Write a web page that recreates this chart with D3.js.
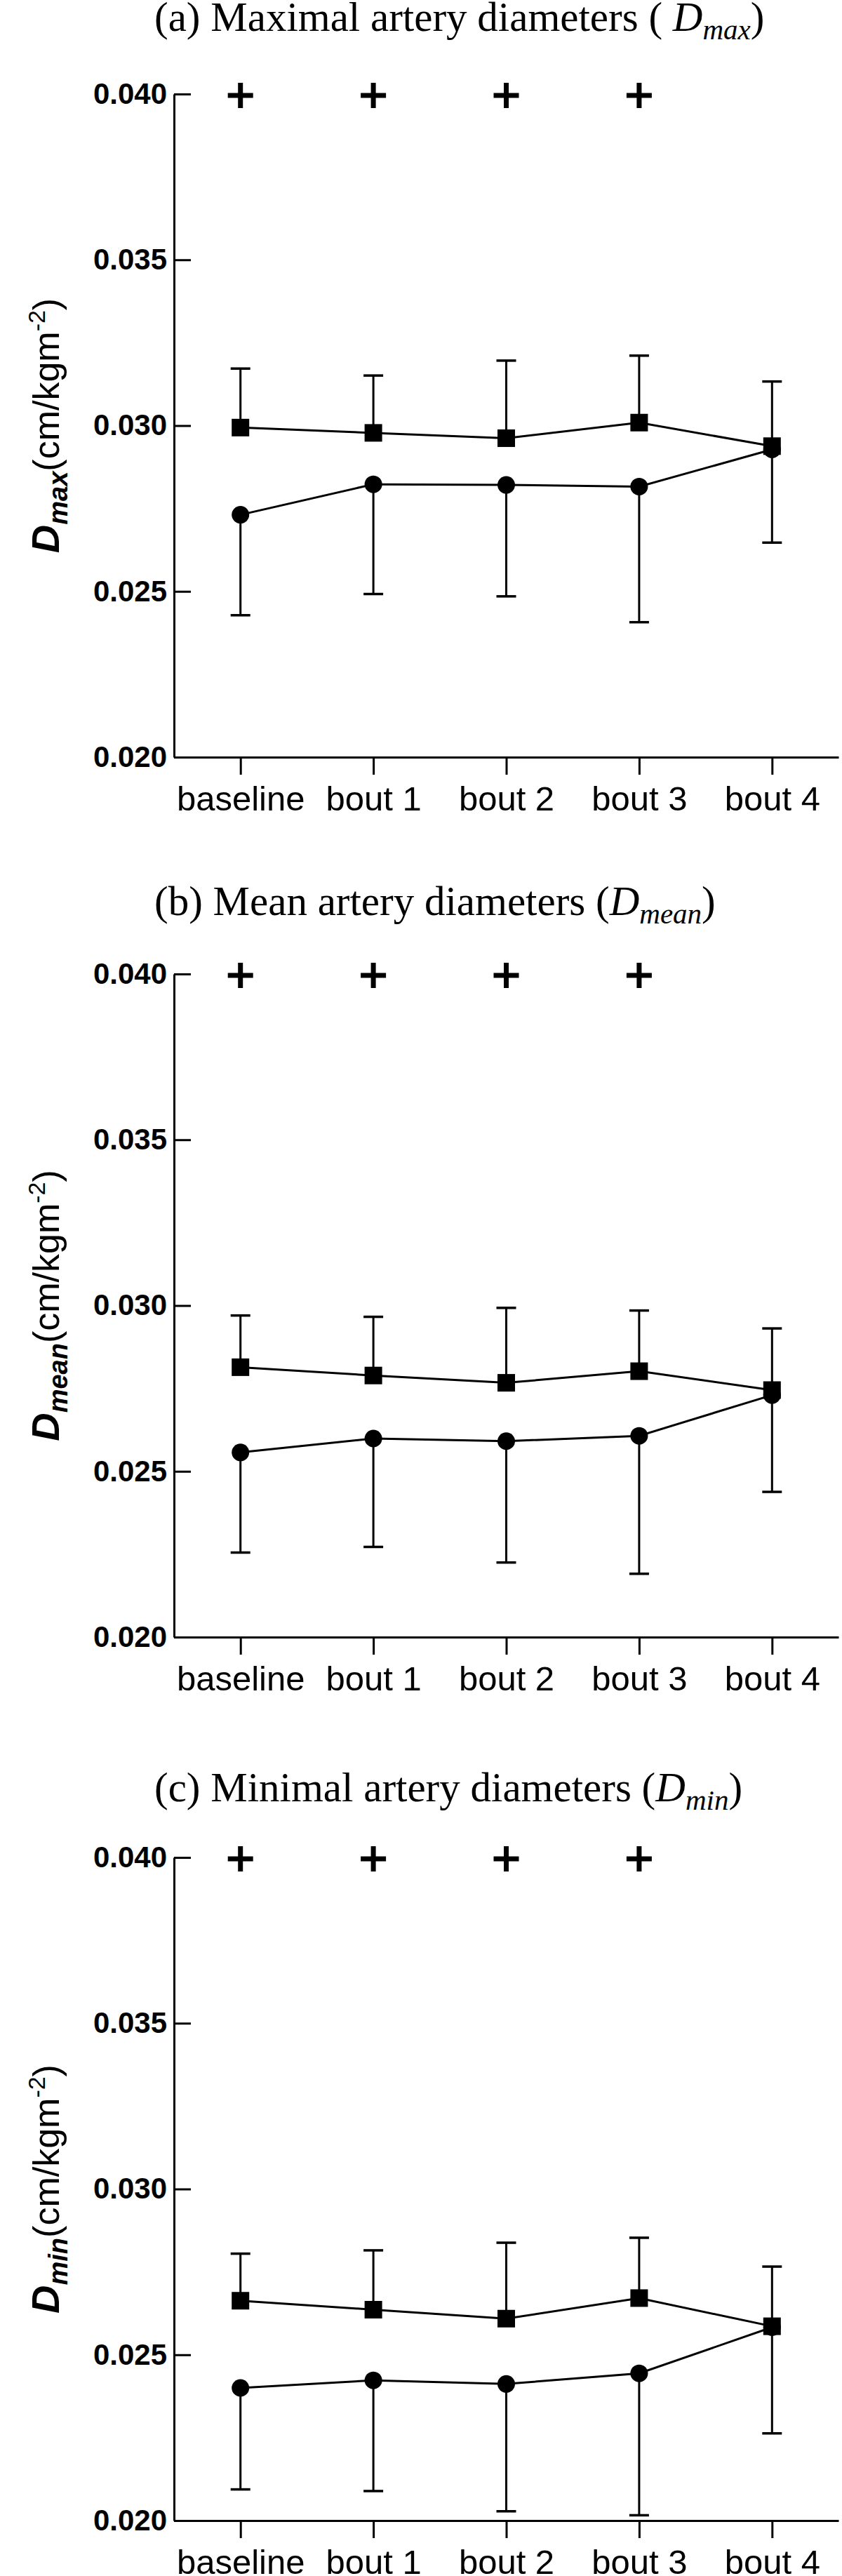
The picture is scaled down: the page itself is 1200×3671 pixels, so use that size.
<!DOCTYPE html>
<meta charset="utf-8">
<script src="https://d3js.org/d3.v7.min.js"></script>
<style>
  body { margin: 0; background: #fff; }
</style>
<div id="chart"></div>
<script>
// categories and axis ticks
var categories = ["baseline", "bout 1", "bout 2", "bout 3", "bout 4"];
var yTicks = [0.020, 0.025, 0.030, 0.035, 0.040];
var sigMarks = ["+", "+", "+", "+", ""];

// panel titles
var titleText = ["(a) Maximal artery diameters ( ", "(b) Mean artery diameters (", "(c) Minimal artery diameters ("];
var titleSub = ["max", "mean", "min"];

// (a) D max : squares (upper SD bars) and circles (lower SD bars)
var maxSquare = [0.02994, 0.02978, 0.02962, 0.03009, 0.02938];
var maxSquareSd = [0.00178, 0.00173, 0.00234, 0.00202, 0.00195];
var maxCircle = [0.02731, 0.02823, 0.02821, 0.02816, 0.02928];
var maxCircleSd = [0.00303, 0.00331, 0.00336, 0.00409, 0.00281];

// (b) D mean
var meanSquare = [0.02814, 0.02789, 0.02767, 0.02802, 0.02745];
var meanSquareSd = [0.00156, 0.00177, 0.00226, 0.00183, 0.00186];
var meanCircle = [0.02557, 0.02599, 0.02591, 0.02607, 0.02730];
var meanCircleSd = [0.00302, 0.00327, 0.00366, 0.00416, 0.00292];

// (c) D min
var minSquare = [0.02663, 0.02636, 0.02609, 0.02671, 0.02586];
var minSquareSd = [0.00142, 0.00179, 0.00229, 0.00182, 0.00180];
var minCircle = [0.02400, 0.02423, 0.02412, 0.02444, 0.02583];
var minCircleSd = [0.00306, 0.00334, 0.00384, 0.00428, 0.00320];

var panels = [
  {sq: maxSquare, sqSd: maxSquareSd, ci: maxCircle, ciSd: maxCircleSd},
  {sq: meanSquare, sqSd: meanSquareSd, ci: meanCircle, ciSd: meanCircleSd},
  {sq: minSquare, sqSd: minSquareSd, ci: minCircle, ciSd: minCircleSd}
];

// layout
var width = 1200, height = 3671;
var plotTop = [134, 1388, 2647], titleY = [44, 1304, 2567], plotH = 945;
var sans = "'Liberation Sans', Arial, sans-serif";
var serif = "'Liberation Serif', 'Times New Roman', serif";

var svg = d3.select("#chart")
  .append("svg")
    .attr("width", width)
    .attr("height", height)
    .style("display", "block");

var x = d3.scalePoint()
  .domain(categories)
  .range([248, 1195])
  .padding(0.5);

panels.forEach(function(p, i) {
  var top = plotTop[i];
  var y = d3.scaleLinear()
    .domain([0.020, 0.040])
    .range([top + plotH, top]);

  // title
  var t = svg.append("text")
    .attr("x", 220)
    .attr("y", titleY[i])
    .style("font-family", serif)
    .style("font-size", "59px")
    .attr("fill", "#000");
  t.append("tspan").text(titleText[i]);
  t.append("tspan").style("font-style", "italic").text("D");
  t.append("tspan").style("font-style", "italic").style("font-size", "41px").attr("dy", 12).text(titleSub[i]);
  t.append("tspan").attr("dy", -12).text(")");

  // y axis
  var ya = svg.append("g")
    .attr("transform", "translate(" + x.range()[0] + ",0)")
    .call(d3.axisLeft(y).tickValues(yTicks).tickFormat(d3.format(".3f"))
      .tickSize(-24).tickSizeOuter(0).tickPadding(10));
  ya.selectAll("path, line").attr("stroke", "#000").attr("stroke-width", 3);
  ya.selectAll("text")
    .attr("fill", "#000")
    .attr("dy", "0.32em")
    .style("font-family", sans)
    .style("font-weight", "bold")
    .style("font-size", "42px");

  // x axis
  var xa = svg.append("g")
    .attr("transform", "translate(0," + y(0.020) + ")")
    .call(d3.axisBottom(x).tickSize(25).tickSizeOuter(0).tickPadding(16));
  xa.selectAll("path, line").attr("stroke", "#000").attr("stroke-width", 3);
  xa.selectAll("text")
    .attr("fill", "#000")
    .style("font-family", sans)
    .style("font-size", "49px");

  // y axis label
  var lab = svg.append("text")
    .attr("transform", "translate(84," + (top + plotH / 2) + ") rotate(-90)")
    .attr("text-anchor", "middle")
    .style("font-family", sans)
    .style("font-size", "52px")
    .attr("fill", "#000");
  lab.append("tspan").style("font-weight", "bold").style("font-style", "italic").style("font-size", "56px").text("D");
  lab.append("tspan").style("font-weight", "bold").style("font-style", "italic").style("font-size", "38px").attr("dy", 12).text(titleSub[i]);
  lab.append("tspan").attr("dy", -12).text("(cm/kgm");
  lab.append("tspan").style("font-size", "34px").attr("dy", -20).text("-2");
  lab.append("tspan").attr("dy", 20).text(")");

  // significance marks
  svg.selectAll(null)
    .data(sigMarks.map(function(s, j) { return {s: s, c: categories[j]}; }).filter(function(d) { return d.s; }))
    .enter()
    .append("path")
      .attr("transform", function(d) { return "translate(" + x(d.c) + "," + (y(0.040) + 2) + ")"; })
      .attr("d", "M-18,0H18M0,-18V18")
      .attr("stroke", "#000")
      .attr("stroke-width", 7);

  var sq = categories.map(function(c, j) { return {c: c, v: p.sq[j], sd: p.sqSd[j]}; });
  var ci = categories.map(function(c, j) { return {c: c, v: p.ci[j], sd: p.ciSd[j]}; });

  var g = svg.append("g");

  // error bars: squares upward, circles downward
  function bars(data, dir) {
    g.selectAll(null).data(data).enter().append("line")
      .attr("x1", function(d) { return x(d.c); })
      .attr("x2", function(d) { return x(d.c); })
      .attr("y1", function(d) { return y(d.v); })
      .attr("y2", function(d) { return y(d.v + dir * d.sd); })
      .attr("stroke", "#000").attr("stroke-width", 3);
    g.selectAll(null).data(data).enter().append("line")
      .attr("x1", function(d) { return x(d.c) - 14; })
      .attr("x2", function(d) { return x(d.c) + 14; })
      .attr("y1", function(d) { return y(d.v + dir * d.sd); })
      .attr("y2", function(d) { return y(d.v + dir * d.sd); })
      .attr("stroke", "#000").attr("stroke-width", 3.5);
  }
  bars(sq, 1);
  bars(ci, -1);

  var line = d3.line()
    .x(function(d) { return x(d.c); })
    .y(function(d) { return y(d.v); });

  g.append("path").datum(ci).attr("d", line)
    .attr("fill", "none").attr("stroke", "#000").attr("stroke-width", 3);
  g.append("path").datum(sq).attr("d", line)
    .attr("fill", "none").attr("stroke", "#000").attr("stroke-width", 3);

  g.selectAll(null).data(ci).enter().append("circle")
    .attr("cx", function(d) { return x(d.c); })
    .attr("cy", function(d) { return y(d.v); })
    .attr("r", 12.5)
    .attr("fill", "#000");

  g.selectAll(null).data(sq).enter().append("rect")
    .attr("x", function(d) { return x(d.c) - 12.5; })
    .attr("y", function(d) { return y(d.v) - 12.5; })
    .attr("width", 25)
    .attr("height", 25)
    .attr("fill", "#000");
});
</script>
